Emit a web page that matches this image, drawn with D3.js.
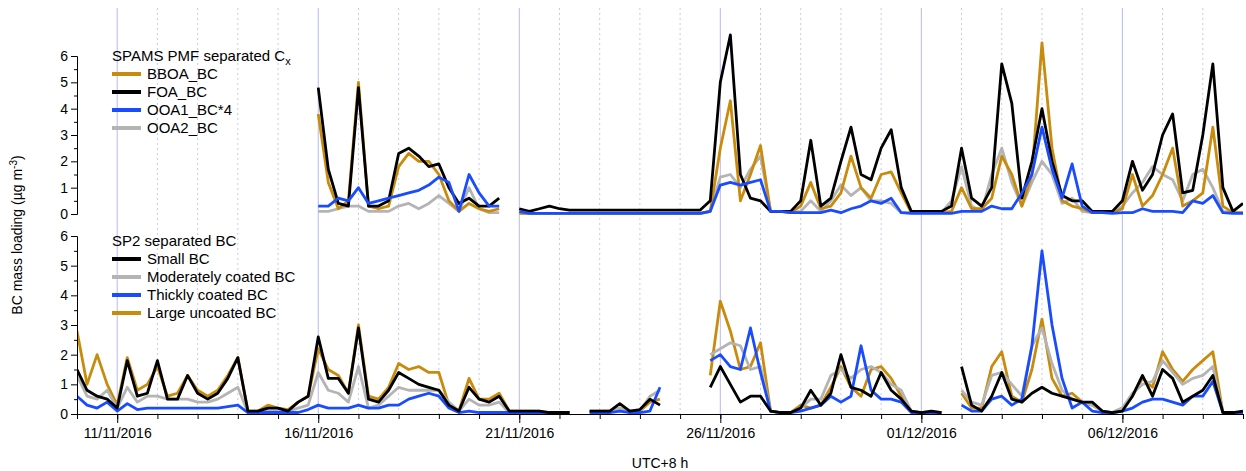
<!DOCTYPE html>
<html><head><meta charset="utf-8">
<script src="https://cdn.jsdelivr.net/npm/d3@7"></script>
<style>body{margin:0;background:#fff}svg{font-family:"Liberation Sans",Arial,sans-serif}</style>
</head><body>
<script>
// time grid: 6-hourly steps from 10/11/2016 00:00 to 09/12/2016 00:00 (117 points)
var start = new Date(2016, 10, 10);
var N = 117;
function nul(n){ return Array(n).fill(null); }
function rep(v, n){ return Array(n).fill(v); }

// SPAMS PMF separated Cx (top panel)
var foaBC = [].concat(nul(24),
  [4.8,1.7,0.4,0.3,4.8,0.3,0.3,0.5,2.3,2.5,2.2,1.8,1.9,1.0,0.4,0.6,0.3,0.3,0.6], [null],
  [0.2,0.1,0.2,0.3,0.2], rep(0.15,14), [0.5],
  [5.0,6.8,1.5,0.6,0.5,0.1,0.1,0.1,0.5,2.8,0.3,0.6,2.0,3.3,1.5,1.3,2.5,3.2,1.0,0.1,0.1,0.1,0.1,0.3,2.5,0.6,0.3,1.0,5.7,4.2,0.6,2.0,4.0,2.0,0.7,0.5,0.5,0.1,0.1,0.1,0.5,2.0,0.9,1.5,3.0,3.8,0.8,0.9,3.0,5.7,1.0,0.1,0.4]);
var bboaBC = [].concat(nul(24),
  [3.8,1.2,0.2,0.5,5.0,0.3,0.2,0.3,1.8,2.3,2.0,2.0,1.5,0.5,0.1,0.4,0.2,0.1,0.2], [null],
  rep(0.02,19), [0.1],
  [2.5,4.3,0.5,1.5,2.6,0.1,0.1,0.05,0.3,1.2,0.2,0.3,0.8,2.2,1.0,0.6,1.5,1.6,0.8,0.05,0.05,0.05,0.05,0.1,1.0,0.2,0.2,0.6,2.2,1.5,0.3,1.5,6.5,2.5,0.5,0.3,0.2,0.05,0.05,0.05,0.2,1.5,0.3,0.7,1.5,2.5,0.3,0.5,0.8,3.3,0.3,0.05,0.05]);
var ooa1BC = [].concat(nul(24),
  [0.3,0.3,0.6,0.5,1.0,0.4,0.5,0.6,0.7,0.8,0.9,1.1,1.4,1.2,0.1,1.5,0.8,0.3,0.3], [null],
  [0.1], rep(0.02,18), [0.1],
  [1.1,1.2,1.1,1.2,1.3,0.1,0.1,0.05,0.05,0.05,0.05,0.15,0.05,0.2,0.3,0.5,0.4,0.6,0.05,0.02,0.02,0.02,0.02,0.02,0.1,0.1,0.1,0.3,0.2,0.2,0.8,1.5,3.3,1.7,0.6,1.9,0.3,0.05,0.05,0.02,0.05,0.05,0.2,0.1,0.1,0.1,0.05,0.5,0.4,0.7,0.05,0.02,0.02]);
var ooa2BC = [].concat(nul(24),
  [0.1,0.1,0.2,0.3,0.3,0.1,0.1,0.1,0.3,0.4,0.2,0.4,0.7,0.4,0.1,1.0,0.2,0.05,0.05], [null],
  rep(0.02,19), [0.1],
  [1.4,1.5,1.0,1.7,2.2,0.1,0.1,0.05,0.1,0.5,0.1,0.5,1.1,0.7,1.0,0.5,0.5,0.4,0.05,0.05,0.05,0.05,0.05,0.5,1.8,0.3,0.1,1.5,2.5,1.2,0.3,1.2,2.0,1.5,0.4,0.6,0.1,0.05,0.05,0.05,0.3,0.8,1.2,1.8,1.5,1.3,0.5,1.5,1.7,1.0,0.1,0.05,0.05]);

// SP2 separated BC (bottom panel)
var smallBC = [].concat(
  [1.5,0.8,0.6,0.5,0.2,1.8,0.6,0.7,1.8,0.5,0.5,1.3,0.7,0.5,0.7,1.2,1.9,0.1,0.1,0.2,0.2,0.1,0.4,0.6,2.6,1.2,1.2,0.7,2.9,0.5,0.4,0.8,1.4,1.2,1.0,0.9,0.8,0.3,0.1,0.9,0.5,0.4,0.6,0.1,0.1,0.1,0.1,0.05,0.05,0.05],
  [null], [0.1,0.1,0.1,0.35,0.1,0.15,0.5,0.3], nul(4),
  [0.9,1.6,1.0,0.4,0.6,0.6,0.1,0.05,0.05,0.2,0.8,0.3,0.7,2.0,0.9,0.8,0.6,1.4,0.8,0.5,0.1,0.05,0.1,0.05],
  [null],
  [1.6,0.3,0.1,0.6,1.4,0.5,0.4,0.7,0.9,0.7,0.6,0.5,0.4,0.4,0.1,0.05,0.1,0.6,1.3,0.6,1.5,1.2,0.4,0.6,0.8,1.3,0.05,0.05,0.1]);
var modBC = [].concat(
  [1.3,0.6,0.5,0.8,0.2,0.9,0.4,0.6,0.6,0.5,0.5,0.5,0.4,0.4,0.5,0.7,0.9,0.05,0.05,0.1,0.1,0.1,0.2,0.3,1.4,0.8,0.7,0.4,1.6,0.2,0.3,0.6,0.9,0.8,0.8,0.8,0.8,0.4,0.1,0.5,0.3,0.3,0.4,0.05,0.05,0.05,0.05,0.05,0.05,0.05],
  [null], [0.1,0.1,0.1,0.2,0.1,0.1,0.6,0.8], nul(4),
  [2.0,2.2,2.4,2.3,1.5,1.6,0.1,0.05,0.05,0.2,0.5,0.5,1.3,1.5,1.2,1.5,1.6,1.4,1.0,0.8,0.1,0.05,0.1,0.05],
  [null],
  [0.8,0.4,0.3,1.3,1.4,1.0,0.6,2.3,2.9,1.7,0.8,0.5,0.4,0.3,0.1,0.05,0.2,0.7,1.0,1.1,1.8,1.4,1.0,1.2,1.3,1.6,0.05,0.05,0.05]);
var thickBC = [].concat(
  [0.6,0.3,0.2,0.4,0.1,0.35,0.15,0.2,0.2,0.2,0.2,0.2,0.2,0.2,0.2,0.25,0.3,0.05,0.05,0.05,0.05,0.05,0.05,0.15,0.3,0.2,0.2,0.2,0.3,0.2,0.2,0.3,0.3,0.5,0.6,0.7,0.6,0.2,0.05,0.1,0.05,0.05,0.05,0.05,0.05,0.05,0.05,0.05,0.05,0.05],
  [null], [0.05,0.05,0.05,0.1,0.05,0.05,0.1,0.9], nul(4),
  [1.8,2.0,1.6,1.5,2.9,1.4,0.1,0.05,0.05,0.1,0.2,0.3,0.6,0.4,0.6,2.3,0.8,0.5,0.5,0.4,0.05,0.05,0.05,0.05],
  [null],
  [0.3,0.1,0.1,0.5,0.6,0.3,0.5,2.3,5.5,3.0,1.2,0.2,0.4,0.1,0.05,0.05,0.1,0.2,0.4,0.5,0.5,0.4,0.3,0.6,0.6,1.1,0.05,0.05,0.05]);
var largeBC = [].concat(
  [2.8,1.0,2.0,1.0,0.3,1.9,0.8,1.0,1.6,0.6,0.7,1.3,0.8,0.6,0.8,1.3,1.9,0.1,0.1,0.3,0.2,0.15,0.4,0.6,2.2,1.5,1.3,0.7,3.0,0.6,0.5,0.9,1.7,1.5,1.6,1.4,1.4,0.3,0.1,1.2,0.5,0.5,0.7,0.1,0.1,0.1,0.1,0.05,0.05,0.05],
  [null], [0.1,0.1,0.1,0.2,0.1,0.1,0.4,0.5], nul(4),
  [1.3,3.8,2.8,1.5,1.6,2.4,0.1,0.05,0.05,0.3,0.2,0.3,0.9,1.6,0.9,0.6,1.5,1.6,1.2,0.6,0.1,0.05,0.05,0.05],
  [null],
  [0.7,0.2,0.2,1.6,2.1,0.6,0.4,1.5,3.2,1.2,0.6,0.7,0.4,0.3,0.1,0.05,0.2,0.6,1.2,0.9,2.1,1.5,1.1,1.5,1.8,2.1,0.05,0.05,0.05]);

var yTicks = [0,1,2,3,4,5,6];
var labelDates = ["11/11/2016","16/11/2016","21/11/2016","26/11/2016","01/12/2016","06/12/2016"];

var times = d3.range(N).map(function(i){ return d3.timeHour.offset(start, i*6); });

var W = 1246, H = 471;
var svg = d3.select('body').append('svg').attr('width', W).attr('height', H);
var x = d3.scaleTime().domain([start, new Date(2016, 11, 9)]).range([77, 1243]);
var yTop = d3.scaleLinear().domain([0, 6]).range([214, 56]);
var yBot = d3.scaleLinear().domain([0, 6]).range([414, 236]);

// day grid lines
d3.timeDay.range(d3.timeDay.offset(start,1), new Date(2016, 11, 9)).forEach(function(d){
  var major = labelDates.indexOf(d3.timeFormat('%d/%m/%Y')(d)) >= 0;
  svg.append('line').attr('x1', x(d)).attr('x2', x(d)).attr('y1', 8).attr('y2', 414)
    .attr('stroke', major ? '#b8b8f4' : '#c8c8ee').attr('stroke-width', 1)
    .attr('stroke-dasharray', major ? null : '2,3');
});

svg.append('clipPath').attr('id', 'c').append('rect')
  .attr('x', 77).attr('y', 0).attr('width', 1166).attr('height', 420);

function drawLine(vals, y, color){
  var line = d3.line().defined(function(d){ return d != null; })
    .x(function(d, i){ return x(times[i]); }).y(function(d){ return y(d); });
  svg.append('path').datum(vals).attr('d', line).attr('clip-path', 'url(#c)')
    .attr('fill', 'none').attr('stroke', color).attr('stroke-width', 2.8)
    .attr('stroke-linejoin', 'round');
}
var ORANGE = '#c98b0c', BLUE = '#1a4cff', GRAY = '#b4b4b4', BLACK = '#000';
drawLine(ooa2BC, yTop, GRAY);
drawLine(bboaBC, yTop, ORANGE);
drawLine(foaBC, yTop, BLACK);
drawLine(ooa1BC, yTop, BLUE);
drawLine(largeBC, yBot, ORANGE);
drawLine(modBC, yBot, GRAY);
drawLine(thickBC, yBot, BLUE);
drawLine(smallBC, yBot, BLACK);

// y axes
[yTop, yBot].forEach(function(y){
  var g = svg.append('g').attr('transform', 'translate(77,0)')
    .call(d3.axisLeft(y).tickValues(yTicks).tickSize(6).tickFormat(d3.format('d')));
  g.select('.domain').attr('stroke', '#000');
  g.selectAll('text').attr('font-size', 14).attr('fill', '#000');
  svg.append('g').attr('transform', 'translate(77,0)')
    .call(d3.axisLeft(y).tickValues(d3.range(0.5, 6, 1)).tickSize(3).tickFormat(''))
    .select('.domain').remove();
});

// x axis
var gx = svg.append('g').attr('transform', 'translate(0,414)')
  .call(d3.axisBottom(x).ticks(d3.timeDay.every(1)).tickSize(5).tickFormat(''));
gx.select('.domain').attr('stroke', '#000');
svg.append('g').attr('transform', 'translate(0,414)')
  .call(d3.axisBottom(x).tickValues(labelDates.map(d3.timeParse('%d/%m/%Y'))).tickSize(9)
  .tickFormat(d3.timeFormat('%d/%m/%Y')))
  .call(function(g){ g.select('.domain').remove(); g.selectAll('text').attr('font-size', 14).attr('dy', '0.85em'); });

svg.append('text').attr('x', 660).attr('y', 468).attr('text-anchor', 'middle')
  .attr('font-size', 14).text('UTC+8 h');
var yl = svg.append('text').attr('transform', 'translate(22,235) rotate(-90)')
  .attr('text-anchor', 'middle').attr('font-size', 14);
yl.append('tspan').text('BC mass loading (µg m');
yl.append('tspan').attr('dy', -5).attr('font-size', 10).text('-3');
yl.append('tspan').attr('dy', 5).text(')');

// legends
function legend(title, sub, items, y0){
  var t = svg.append('text').attr('x', 112).attr('y', y0).attr('font-size', 15).text(title);
  if (sub) t.append('tspan').attr('dy', 4).attr('font-size', 11).text(sub);
  items.forEach(function(it, i){
    var yy = y0 + 18 * (i + 1) - 5;
    svg.append('line').attr('x1', 112).attr('x2', 141).attr('y1', yy).attr('y2', yy)
      .attr('stroke', it[1]).attr('stroke-width', 4);
    svg.append('text').attr('x', 147).attr('y', yy + 5).attr('font-size', 15).text(it[0]);
  });
}
legend('SPAMS PMF separated C', 'x', [['BBOA_BC', ORANGE], ['FOA_BC', BLACK], ['OOA1_BC*4', BLUE], ['OOA2_BC', GRAY]], 61);
legend('SP2 separated BC', null, [['Small BC', BLACK], ['Moderately coated BC', GRAY], ['Thickly coated BC', BLUE], ['Large uncoated BC', ORANGE]], 246);
</script>
</body></html>
